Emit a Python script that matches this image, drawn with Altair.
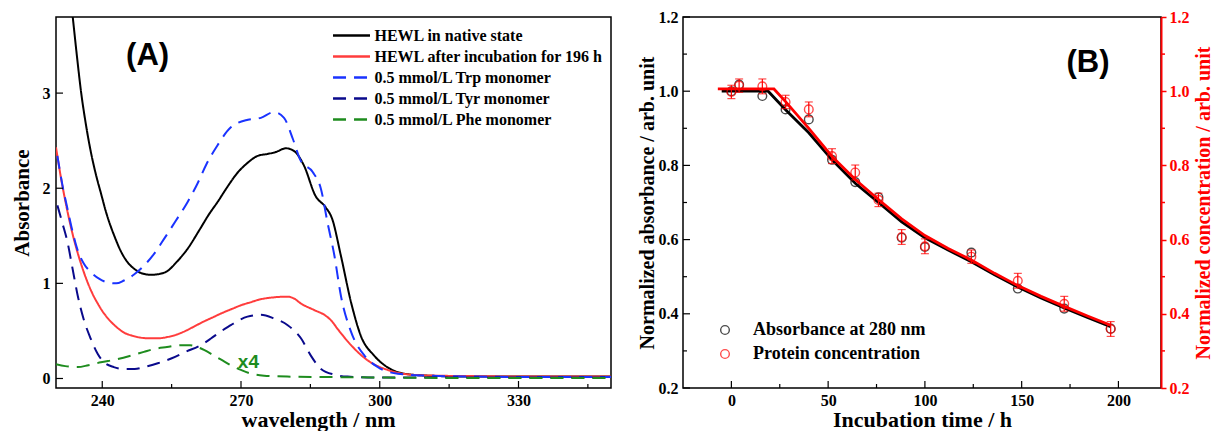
import altair as alt
import pandas as pd

# ---------------- Panel A: UV absorption spectra ----------------
native_wl = [233.6, 234.5, 235.4, 236.5, 237.5, 238.6, 239.7, 241.0, 242.6, 244.0, 245.5, 247.0, 248.3,
             250.5, 252.5, 254.1, 256.0, 258.4, 261.0, 263.0, 265.0, 267.0, 269.2, 271.5, 273.6, 275.7,
             277.5, 279.7, 281.5, 283.6, 286.1, 288.3, 289.7, 291.6, 293.8, 295.9, 298.8, 301.6, 305.3,
             310.4, 320.0, 335.0, 350.0]
native_abs = [3.81, 3.40, 3.02, 2.66, 2.39, 2.15, 1.95, 1.72, 1.50, 1.34, 1.22, 1.15, 1.11,
              1.09, 1.10, 1.13, 1.22, 1.36, 1.56, 1.72, 1.86, 2.01, 2.16, 2.27, 2.34, 2.36,
              2.38, 2.42, 2.39, 2.24, 1.92, 1.80, 1.68, 1.29, 0.80, 0.45, 0.24, 0.12, 0.05,
              0.03, 0.02, 0.02, 0.02]

incub_wl = [230.0, 231.0, 232.0, 233.0, 234.0, 235.0, 236.0, 237.0, 238.0, 239.0, 240.0, 241.0, 242.0,
            243.0, 244.0, 245.0, 246.5, 248.0, 250.0, 252.0, 254.0, 256.0, 258.0, 260.0, 262.0, 264.0,
            266.0, 268.0, 270.0, 272.0, 274.0, 276.5, 280.0, 281.5, 282.9, 285.8, 288.3, 289.5, 290.9,
            293.8, 297.4, 301.7, 306.8, 312.0, 320.0, 335.0, 350.0]
incub_abs = [2.43, 2.13, 1.87, 1.64, 1.44, 1.27, 1.12, 0.99, 0.88, 0.79, 0.71, 0.645, 0.59,
             0.545, 0.505, 0.475, 0.45, 0.432, 0.422, 0.422, 0.435, 0.46, 0.50, 0.55, 0.60, 0.645,
             0.69, 0.73, 0.77, 0.80, 0.83, 0.85, 0.86, 0.84, 0.79, 0.72, 0.66, 0.61, 0.52,
             0.35, 0.19, 0.09, 0.04, 0.03, 0.025, 0.02, 0.02]

trp_wl = [230.3, 231.4, 232.5, 233.5, 234.6, 236.0, 237.5, 239.3, 241.1, 243.0, 244.7, 246.8, 249.1,
          251.2, 253.4, 255.8, 258.4, 260.6, 262.5, 264.9, 267.8, 271.5, 274.3, 277.1, 279.3, 281.2,
          282.9, 285.5, 287.3, 288.7, 290.2, 291.6, 293.8, 296.7, 299.6, 303.9, 310.4, 320.0, 335.0, 350.0]
trp_abs = [2.34, 2.03, 1.78, 1.56, 1.36, 1.21, 1.12, 1.05, 1.01, 1.00, 1.03, 1.09, 1.19,
           1.31, 1.47, 1.65, 1.85, 2.05, 2.25, 2.45, 2.64, 2.72, 2.74, 2.80, 2.74, 2.52,
           2.29, 2.17, 1.99, 1.64, 1.29, 0.87, 0.49, 0.24, 0.12, 0.05, 0.03, 0.02, 0.015, 0.015]

tyr_wl = [230.3, 231.4, 232.5, 233.6, 234.7, 236.0, 237.5, 239.0, 240.4, 242.5, 244.8, 247.0, 249.1,
          252.0, 254.9, 258.0, 261.3, 263.5, 265.5, 267.8, 269.5, 271.4, 274.3, 277.2, 280.1, 283.0,
          285.1, 287.3, 290.2, 293.0, 300.0, 320.0, 350.0]
tyr_abs = [1.82, 1.63, 1.43, 1.15, 0.87, 0.62, 0.42, 0.26, 0.17, 0.12, 0.10, 0.10, 0.12,
           0.16, 0.21, 0.28, 0.35, 0.42, 0.49, 0.56, 0.61, 0.65, 0.67, 0.63, 0.56, 0.42,
           0.24, 0.10, 0.04, 0.02, 0.01, 0.01, 0.01]

phe_wl = [230.0, 232.0, 234.7, 237.0, 239.7, 243.0, 246.2, 249.0, 251.2, 254.0, 257.0, 259.0, 260.6,
          262.0, 264.2, 266.0, 267.8, 270.0, 272.2, 275.0, 280.0, 290.0, 300.0, 320.0, 350.0]
phe_abs = [0.15, 0.13, 0.12, 0.14, 0.17, 0.20, 0.24, 0.28, 0.31, 0.33, 0.35, 0.35, 0.33,
           0.30, 0.24, 0.19, 0.14, 0.09, 0.05, 0.03, 0.02, 0.015, 0.01, 0.005, 0.005]

series_names = ["HEWL in native state", "HEWL after incubation for 196 h",
                "0.5 mmol/L Trp monomer", "0.5 mmol/L Tyr monomer", "0.5 mmol/L Phe monomer"]
series_colors = ["#000000", "#ff3c3c", "#1a33ff", "#0a0a8c", "#1e8c1e"]
series_dash = [[1, 0], [1, 0], [13, 8], [13, 8], [13, 8]]

wl_ticks = [240, 270, 300, 330]
wl_minor = [255, 285, 315, 345]
abs_ticks = [0, 1, 2, 3]

# ---------------- Panel B: kinetics ----------------
time_h = [0, 4, 16, 28, 40, 52, 64, 76, 88, 100, 124, 148, 172, 196]
abs_280 = [1.000, 1.018, 0.987, 0.951, 0.924, 0.815, 0.755, 0.714, 0.605, 0.580, 0.565, 0.468, 0.414, 0.360]
protein = [0.998, 1.015, 1.013, 0.971, 0.951, 0.825, 0.781, 0.707, 0.607, 0.582, 0.554, 0.489, 0.427, 0.359]
protein_err = [0.018, 0.018, 0.020, 0.018, 0.020, 0.020, 0.020, 0.018, 0.020, 0.020, 0.018, 0.020, 0.020, 0.020]

fit_abs_t = [-5, 19, 28, 40, 52, 64, 76, 88, 100, 112, 124, 136, 148, 160, 172, 184, 196]
fit_abs_v = [1.000, 1.000, 0.950, 0.888, 0.815, 0.752, 0.700, 0.648, 0.605, 0.572, 0.540, 0.505,
             0.472, 0.443, 0.416, 0.390, 0.365]
fit_prot_t = [-7, 22, 28, 40, 52, 64, 76, 88, 100, 112, 124, 136, 148, 160, 172, 184, 196]
fit_prot_v = [1.006, 1.006, 0.972, 0.900, 0.824, 0.762, 0.708, 0.656, 0.611, 0.576, 0.545, 0.509,
              0.476, 0.447, 0.420, 0.394, 0.369]

legend_b = ["Absorbance at 280 nm", "Protein concentration"]
t_ticks = [0, 50, 100, 150, 200]
t_minor = [25, 75, 125, 175]
v_ticks = [0.2, 0.4, 0.6, 0.8, 1.0, 1.2]
v_minor = [0.3, 0.5, 0.7, 0.9, 1.1]

SERIF = "Liberation Serif"
SANS = "Liberation Sans"
WA, HA = 555, 371
WB, HB = 478, 371

# ---------- build panel A ----------
rows = []
for name, wls, vals in zip(series_names,
                           [native_wl, incub_wl, trp_wl, tyr_wl, phe_wl],
                           [native_abs, incub_abs, trp_abs, tyr_abs, phe_abs]):
    for w, a in zip(wls, vals):
        rows.append({"wl": w, "absb": a, "series": name})
dfA = pd.DataFrame(rows)

xA = alt.X("wl:Q", scale=alt.Scale(domain=[230, 350], nice=False, zero=False),
           axis=alt.Axis(values=wl_ticks, ticks=False, domain=False, grid=False,
                         title="wavelength / nm", labelPadding=4, titlePadding=1,
                         titleFontSize=22, titleX=262))
yA = alt.Y("absb:Q", scale=alt.Scale(domain=[-0.1, 3.8], nice=False, zero=False),
           axis=alt.Axis(values=abs_ticks, format="d", ticks=False, domain=False, grid=False,
                         title="Absorbance", labelPadding=6, titlePadding=10,
                         titleFontSize=21))

# long flat line symbol (custom path, wider than the nominal symbol size)
legA = alt.Legend(title=None, orient="none", legendX=283, legendY=6,
                  symbolType="M-1.71,0H1.71", symbolSize=467, symbolStrokeWidth=2.5,
                  labelFont=SERIF, labelFontWeight="bold", labelFontSize=16, labelColor="black",
                  rowPadding=0, labelOffset=10.5, padding=0, labelLimit=400)

linesA = alt.Chart(dfA).mark_line(strokeWidth=2, interpolate="monotone", clip=True).encode(
    x=xA, y=yA,
    color=alt.Color("series:N", scale=alt.Scale(domain=series_names, range=series_colors),
                    legend=legA, sort=series_names),
    strokeDash=alt.StrokeDash("series:N", scale=alt.Scale(domain=series_names, range=series_dash),
                              legend=legA, sort=series_names),
)

ticksA_x = alt.Chart(pd.DataFrame({"wl": wl_ticks})).mark_rule(color="black", strokeWidth=1.2).encode(
    x="wl:Q", y=alt.value(HA), y2=alt.value(HA - 7))
ticksA_xm = alt.Chart(pd.DataFrame({"wl": wl_minor})).mark_rule(color="black", strokeWidth=1.2).encode(
    x="wl:Q", y=alt.value(HA), y2=alt.value(HA - 4))
ticksA_y = alt.Chart(pd.DataFrame({"absb": abs_ticks})).mark_rule(color="black", strokeWidth=1.2).encode(
    y="absb:Q", x=alt.value(0), x2=alt.value(7))

labelA = alt.Chart(pd.DataFrame({"wl": [249.8], "absb": [3.39], "txt": ["(A)"]})).mark_text(
    font=SANS, fontWeight="bold", fontSize=31, color="black", align="center", baseline="middle").encode(
    x="wl:Q", y="absb:Q", text="txt:N")
x4 = alt.Chart(pd.DataFrame({"wl": [271.6], "absb": [0.17], "txt": ["x4"]})).mark_text(
    font=SANS, fontWeight="bold", fontSize=19, color="#1e8c1e", align="center", baseline="middle").encode(
    x="wl:Q", y="absb:Q", text="txt:N")

panelA = alt.layer(linesA, ticksA_x, ticksA_xm, ticksA_y, labelA, x4).properties(width=WA, height=HA)

# ---------- build panel B ----------
dfBk = pd.DataFrame({"t": time_h, "v": abs_280, "kind": legend_b[0]})
dfBr = pd.DataFrame({"t": time_h, "v": protein, "kind": legend_b[1],
                     "lo": [p - e for p, e in zip(protein, protein_err)],
                     "hi": [p + e for p, e in zip(protein, protein_err)]})
dfFk = pd.DataFrame({"t": fit_abs_t, "v": fit_abs_v})
dfFr = pd.DataFrame({"t": fit_prot_t, "v": fit_prot_v})

xB = alt.X("t:Q", scale=alt.Scale(domain=[-25, 222], nice=False, zero=False),
           axis=alt.Axis(values=t_ticks, ticks=False, domain=False, grid=False,
                         title="Incubation time / h", labelPadding=4, titlePadding=1,
                         titleFontSize=22))
yscale = alt.Scale(domain=[0.2, 1.2], nice=False, zero=False)
yB_left = alt.Y("v:Q", scale=yscale,
                axis=alt.Axis(values=v_ticks, format=".1f", ticks=False, domain=False, grid=False,
                              title="Normalized absorbance / arb. unit", labelPadding=5,
                              titlePadding=1, titleFontSize=20))
yB_right = alt.Y("v:Q", scale=yscale,
                 axis=alt.Axis(orient="right", values=v_ticks, format=".1f", ticks=True, tickSize=5,
                               tickColor="red", tickWidth=1.5, domain=True, domainColor="red",
                               domainWidth=2, grid=False, labelColor="red", titleColor="red",
                               title="Normalized concentration / arb. unit", labelPadding=3,
                               titlePadding=4, titleFontSize=20, titleAngle=270,
                               titleBaseline="top"))

legB = alt.Legend(title=None, orient="none", legendX=33, legendY=304, symbolType="circle",
                  symbolSize=75, symbolStrokeWidth=1.4, labelFont=SERIF, labelFontWeight="bold",
                  labelFontSize=18, labelColor="black", rowPadding=6, labelOffset=19, padding=0,
                  labelLimit=400)
colorB = alt.Color("kind:N", scale=alt.Scale(domain=legend_b, range=["black", "red"]), legend=legB)

fitK = alt.Chart(dfFk).mark_line(color="black", strokeWidth=2.8).encode(x=xB, y=yB_left)
ptsK = alt.Chart(dfBk).mark_point(shape="circle", filled=False, size=75, strokeWidth=1.4).encode(
    x="t:Q", y="v:Q", color=colorB)
ticksB_x = alt.Chart(pd.DataFrame({"t": t_ticks})).mark_rule(color="black", strokeWidth=1.2).encode(
    x="t:Q", y=alt.value(HB), y2=alt.value(HB - 7))
ticksB_xm = alt.Chart(pd.DataFrame({"t": t_minor})).mark_rule(color="black", strokeWidth=1.2).encode(
    x="t:Q", y=alt.value(HB), y2=alt.value(HB - 4))
ticksB_y = alt.Chart(pd.DataFrame({"v": v_ticks})).mark_rule(color="black", strokeWidth=1.2).encode(
    y="v:Q", x=alt.value(0), x2=alt.value(7))
ticksB_ym = alt.Chart(pd.DataFrame({"v": v_minor})).mark_rule(color="black", strokeWidth=1.2).encode(
    y="v:Q", x=alt.value(0), x2=alt.value(4))
labelB = alt.Chart(pd.DataFrame({"t": [184.3], "v": [1.075], "txt": ["(B)"]})).mark_text(
    font=SANS, fontWeight="bold", fontSize=31, color="black", align="center", baseline="middle").encode(
    x="t:Q", y="v:Q", text="txt:N")
black_group = alt.layer(fitK, ptsK, ticksB_x, ticksB_xm, ticksB_y, ticksB_ym, labelB)

fitR = alt.Chart(dfFr).mark_line(color="red", strokeWidth=2.8).encode(x="t:Q", y=yB_right)
errR = alt.Chart(dfBr).mark_rule(color="red", strokeWidth=1.2).encode(x="t:Q", y="lo:Q", y2="hi:Q")
capLo = alt.Chart(dfBr).mark_tick(color="red", orient="horizontal", size=8, thickness=1.2).encode(
    x="t:Q", y="lo:Q")
capHi = alt.Chart(dfBr).mark_tick(color="red", orient="horizontal", size=8, thickness=1.2).encode(
    x="t:Q", y="hi:Q")
ptsR = alt.Chart(dfBr).mark_point(shape="circle", filled=False, size=75, strokeWidth=1.4).encode(
    x="t:Q", y="v:Q", color=colorB)
ticksR_m = alt.Chart(pd.DataFrame({"v": v_minor})).mark_rule(color="red", strokeWidth=1.5).encode(
    y="v:Q", x=alt.value(WB), x2=alt.value(WB + 4))
red_group = alt.layer(fitR, errR, capLo, capHi, ptsR, ticksR_m)

panelB = alt.layer(black_group, red_group).resolve_scale(y="independent").properties(width=WB, height=HB)

chart = alt.hconcat(panelA, panelB, spacing=72, bounds="flush").resolve_scale(
    color="independent", strokeDash="independent"
).resolve_legend(color="independent", strokeDash="independent").properties(
    padding={"left": 2, "top": 0, "right": 0, "bottom": 0}
).configure_view(stroke="black", strokeWidth=1.5).configure_axis(
    labelFont=SERIF, labelFontWeight="bold", labelFontSize=16, labelColor="black",
    titleFont=SERIF, titleFontWeight="bold", titleColor="black"
).configure_legend(labelFont=SERIF)

chart.save("out.html", embed_options={"renderer": "svg", "actions": False})
